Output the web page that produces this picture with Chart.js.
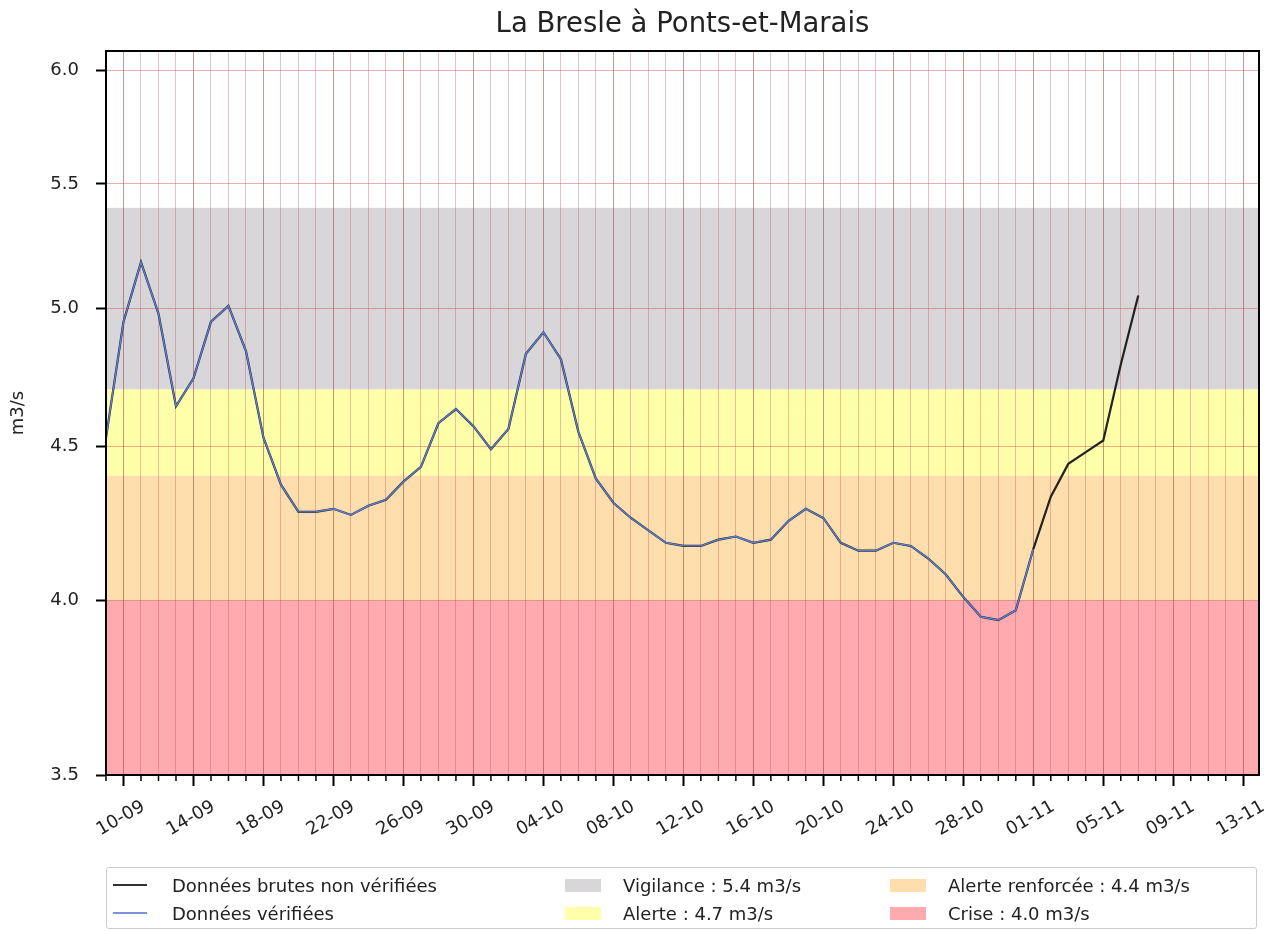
<!DOCTYPE html>
<html lang="fr">
<head>
<meta charset="utf-8">
<title>La Bresle à Ponts-et-Marais</title>
<script src="https://cdn.jsdelivr.net/npm/chart.js@4.4.0/dist/chart.umd.min.js"></script>
<style>
  html, body { margin: 0; padding: 0; background: #fff; }
  #wrap { position: relative; width: 1271px; height: 931px; }
  #debitChart { display: block; }
  #legende {
    position: absolute; left: 106px; top: 867px; width: 1151px; height: 62px;
    box-sizing: border-box; border: 1px solid #ccc; border-radius: 3px;
    padding: 3px 0 0 6px;
    font: 18px "DejaVu Sans"; color: #222;
    display: grid; grid-template-columns: 452px 325px 1fr; grid-template-rows: 28px 28px;
    grid-auto-flow: column;
  }
  .item { display: flex; align-items: center; white-space: nowrap; }
  .trait { width: 34px; height: 2px; margin-right: 25px; }
  .patch { width: 36px; height: 13px; margin-right: 22px; }
</style>
</head>
<body>
<div id="wrap">
  <canvas id="debitChart" width="1271" height="931"></canvas>
  <div id="legende"></div>
</div>
<script>
// jours affichés sur l'axe (09-09 -> 13-11)
const jours = [
  '09-09','10-09','11-09','12-09','13-09','14-09','15-09','16-09','17-09','18-09','19-09',
  '20-09','21-09','22-09','23-09','24-09','25-09','26-09','27-09','28-09','29-09','30-09',
  '01-10','02-10','03-10','04-10','05-10','06-10','07-10','08-10','09-10','10-10','11-10',
  '12-10','13-10','14-10','15-10','16-10','17-10','18-10','19-10','20-10','21-10','22-10',
  '23-10','24-10','25-10','26-10','27-10','28-10','29-10','30-10','31-10',
  '01-11','02-11','03-11','04-11','05-11','06-11','07-11','08-11','09-11','10-11','11-11',
  '12-11','13-11'
];

// débits journaliers (m3/s) à partir du 09-09
const debitBrut = [
  4.53, 4.95, 5.18, 4.98, 4.64, 4.74, 4.95, 5.01, 4.84, 4.53, 4.37,
  4.28, 4.28, 4.29, 4.27, 4.30, 4.32, 4.38, 4.43, 4.58, 4.63, 4.57,
  4.49, 4.56, 4.83, 4.91, 4.81, 4.55, 4.39, 4.31, 4.26, 4.22, 4.18,
  4.17, 4.17, 4.19, 4.20, 4.18, 4.19, 4.25, 4.29, 4.26, 4.18, 4.155,
  4.155, 4.18, 4.17, 4.13, 4.08, 4.01, 3.95, 3.94, 3.97,
  4.16, 4.33, 4.44, 4.48, 4.52, 4.79, 5.05
];
const debitVerifie = [
  4.53, 4.95, 5.18, 4.98, 4.64, 4.74, 4.95, 5.01, 4.84, 4.53, 4.37,
  4.28, 4.28, 4.29, 4.27, 4.30, 4.32, 4.38, 4.43, 4.58, 4.63, 4.57,
  4.49, 4.56, 4.83, 4.91, 4.81, 4.55, 4.39, 4.31, 4.26, 4.22, 4.18,
  4.17, 4.17, 4.19, 4.20, 4.18, 4.19, 4.25, 4.29, 4.26, 4.18, 4.155,
  4.155, 4.18, 4.17, 4.13, 4.08, 4.01, 3.95, 3.94, 3.97,
  4.16
];

// seuils de restriction
const nomsSeuils = ['Vigilance', 'Alerte', 'Alerte renforcée', 'Crise'];
const seuils = [5.4, 4.7, 4.4, 4.0];
const couleursSeuils = ['#d8d6d8', '#ffffaa', '#fddeac', '#ffaaae'];

const ticksY = [3.5, 4.0, 4.5, 5.0, 5.5, 6.0];

const police = { family: 'DejaVu Sans', size: 18 };
const texte = '#222';

// bandes de couleur sous la grille + cadre noir et petites graduations
const fondSeuils = {
  id: 'fondSeuils',
  beforeDraw(chart) {
    const { ctx, chartArea: a, scales: { y } } = chart;
    ctx.save();
    seuils.forEach((haut, i) => {
      const bas = i + 1 < seuils.length ? seuils[i + 1] : y.min;
      const yh = y.getPixelForValue(haut);
      const yb = y.getPixelForValue(bas);
      ctx.fillStyle = couleursSeuils[i];
      ctx.fillRect(a.left, yh, a.right - a.left, yb - yh);
    });
    ctx.restore();
  },
  afterDraw(chart) {
    const { ctx, chartArea: a, scales: { x } } = chart;
    ctx.save();
    ctx.strokeStyle = '#000';
    ctx.lineWidth = 1.5;
    jours.forEach((j, i) => {
      if (i % 4 === 1) return;
      const px = x.getPixelForValue(i);
      ctx.beginPath();
      ctx.moveTo(px, a.bottom);
      ctx.lineTo(px, a.bottom + 6);
      ctx.stroke();
    });
    ctx.lineWidth = 2;
    ctx.strokeRect(a.left, a.top, a.right - a.left, a.bottom - a.top);
    ctx.restore();
  }
};

new Chart(document.getElementById('debitChart'), {
  type: 'line',
  data: {
    datasets: [
      {
        label: 'Données vérifiées',
        data: debitVerifie.map((v, i) => ({ x: i, y: v })),
        borderColor: '#5d7fd6',
        borderWidth: 1.4,
        pointRadius: 0,
        order: 0
      },
      {
        label: 'Données brutes non vérifiées',
        data: debitBrut.map((v, i) => ({ x: i, y: v })),
        borderColor: '#222',
        borderWidth: 2.2,
        pointRadius: 0,
        order: 1
      }
    ]
  },
  options: {
    responsive: false,
    animation: false,
    layout: { padding: { left: 0, right: 12, top: 0, bottom: 66 } },
    plugins: {
      legend: { display: false },
      tooltip: { enabled: false },
      title: {
        display: true,
        fullSize: false,
        text: 'La Bresle à Ponts-et-Marais',
        color: texte,
        font: { family: 'DejaVu Sans', size: 27.5, weight: 'normal' },
        padding: { top: 8, bottom: 10 }
      }
    },
    scales: {
      x: {
        type: 'linear',
        min: 0,
        max: 65.9,
        afterBuildTicks: (s) => { s.ticks = jours.map((j, i) => ({ value: i })); },
        afterFit: (s) => { s.height = 90; },
        border: { color: '#000', width: 2 },
        grid: {
          color: (c) => (c.index % 4 === 1 ? 'rgba(140,50,50,0.5)' : 'rgba(190,80,80,0.35)'),
          lineWidth: 1,
          tickLength: 11,
          tickWidth: 2,
          tickColor: (c) => (c.index % 4 === 1 ? '#000' : 'rgba(0,0,0,0)')
        },
        ticks: {
          autoSkip: false,
          minRotation: 30,
          maxRotation: 30,
          labelOffset: 20,
          padding: 10,
          color: texte,
          font: police,
          callback: (v) => (v % 4 === 1 ? jours[v] : '')
        }
      },
      y: {
        type: 'logarithmic',
        min: 3.5,
        max: 6.088,
        afterBuildTicks: (s) => { s.ticks = ticksY.map((v) => ({ value: v })); },
        afterFit: (s) => { s.width = 106; },
        border: { color: '#000', width: 2 },
        grid: { color: 'rgba(200,80,80,0.45)', lineWidth: 1, tickLength: 10, tickWidth: 2, tickColor: '#000' },
        ticks: { padding: 17, color: texte, font: police, callback: (v) => Number(v).toFixed(1) },
        title: { display: true, text: 'm3/s', color: texte, font: police, padding: { top: 8, bottom: 0 } }
      }
    }
  },
  plugins: [fondSeuils]
});

// légende en trois colonnes
const legende = document.getElementById('legende');
const lignes = [
  { nom: 'Données brutes non vérifiées', couleur: '#333' },
  { nom: 'Données vérifiées', couleur: '#7d92dc' }
];
lignes.forEach((l) => {
  legende.insertAdjacentHTML('beforeend',
    `<div class="item"><span class="trait" style="background:${l.couleur}"></span>${l.nom}</div>`);
});
nomsSeuils.forEach((nom, i) => {
  legende.insertAdjacentHTML('beforeend',
    `<div class="item"><span class="patch" style="background:${couleursSeuils[i]}"></span>${nom} : ${seuils[i].toFixed(1)} m3/s</div>`);
});
</script>
</body>
</html>
